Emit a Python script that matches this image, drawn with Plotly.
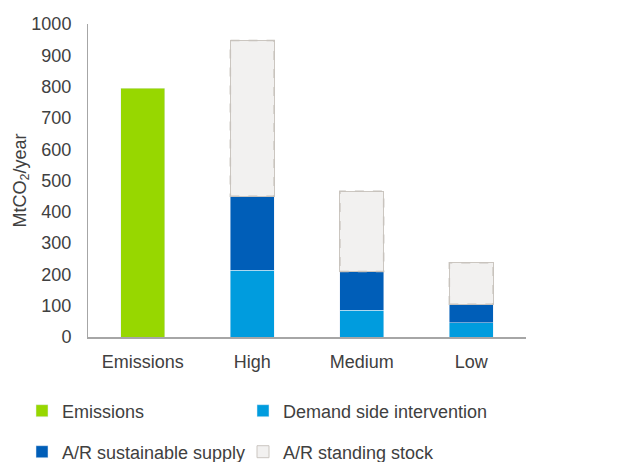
import plotly.graph_objects as go

categories = ["Emissions", "High", "Medium", "Low"]
emissions = [795, None, None, None]
demand_side = [None, 214, 86, 46]
ar_sustainable = [None, 236, 123, 59]
ar_standing = [None, 497, 257, 132]

FONT = "Liberation Sans, Arial, sans-serif"
TXT = "#404040"
FS = 18
bar_w = 0.4

fig = go.Figure()
fig.add_bar(x=categories, y=emissions, name="Emissions", marker_color="#97D700",
            width=bar_w, legend="legend", showlegend=True)
fig.add_bar(x=categories, y=demand_side, name="Demand side intervention", marker_color="#009CDE",
            width=bar_w, legend="legend2", showlegend=True)
fig.add_bar(x=categories, y=ar_sustainable, name="A/R sustainable supply", marker_color="#005EB8",
            width=bar_w, legend="legend3", showlegend=True)
fig.add_bar(x=categories, y=ar_standing, name="A/R standing stock", marker_color="#F2F1F0",
            marker_line=dict(color="#CBC6C0", width=1), width=bar_w, legend="legend4",
            showlegend=True)

# dashed outlines for standing stock segments
for i, c in enumerate(categories):
    if ar_standing[i] is None:
        continue
    base = (demand_side[i] or 0) + (ar_sustainable[i] or 0)
    fig.add_shape(type="rect", xref="x", yref="y",
                  x0=i - bar_w / 2, x1=i + bar_w / 2, y0=base, y1=base + ar_standing[i],
                  line=dict(color="#C8C3BD", width=1.5, dash="dash"), fillcolor="rgba(0,0,0,0)")


def leg(x_px, y_px):
    return dict(orientation="h", xref="container", yref="container",
                x=x_px / 625, y=1 - y_px / 462, xanchor="left", yanchor="middle",
                font=dict(family=FONT, size=FS, color=TXT), itemwidth=30,
                bgcolor="rgba(0,0,0,0)", visible=True)


fig.update_layout(
    barmode="stack",
    showlegend=True,
    width=625, height=462,
    margin=dict(l=88, r=99, t=24, b=125),
    paper_bgcolor="white", plot_bgcolor="white",
    font=dict(family=FONT, size=FS, color=TXT),
    legend=leg(22, 411),
    legend2=leg(243, 411),
    legend3=leg(22, 452),
    legend4=leg(243, 452),
    xaxis=dict(showline=True, linecolor="#A6A6A6", linewidth=1.5, ticks="",
               tickfont=dict(size=FS, color=TXT), showgrid=False, ticklabelstandoff=8),
    yaxis=dict(range=[0, 1000], dtick=100, showline=True, linecolor="#A6A6A6", linewidth=1,
               showgrid=False, ticks="", tickfont=dict(size=FS, color=TXT), zeroline=False,
               ticklabelstandoff=12,
               title=dict(text="MtCO<sub>2</sub>/year", font=dict(size=FS, color=TXT), standoff=0)),
)

fig.write_html("out.html")
